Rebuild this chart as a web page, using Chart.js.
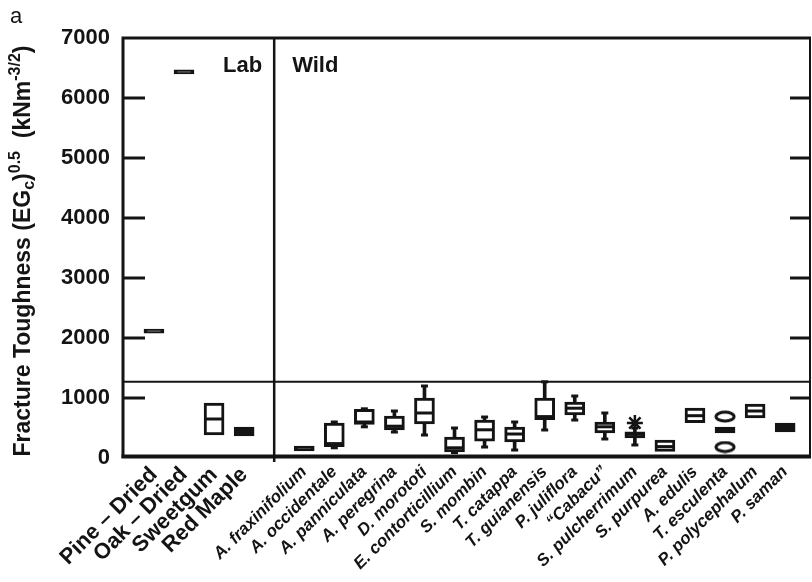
<!DOCTYPE html>
<html><head><meta charset="utf-8">
<script src="https://cdn.jsdelivr.net/npm/chart.js@4"></script>
<style>html,body{margin:0;padding:0;background:#fff;}#wrap{width:812px;height:582px;position:relative;}</style>
</head><body><div id="wrap"><canvas id="c" width="812" height="582"></canvas></div>
<script>
// ---------- data ----------
const categories = ['Pine – Dried','Oak – Dried','Sweetgum','Red Maple','',
  'A. fraxinifolium','A. occidentale','A. panniculata','A. peregrina','D. morototi',
  'E. contorticillium','S. mombin','T. catappa','T. guianensis','P. juliflora',
  '“Cabacu”','S. pulcherrimum','S. purpurea','A. edulis','T. esculenta',
  'P. polycephalum','P. saman'];
const labCategories = ['Pine – Dried','Oak – Dried','Sweetgum','Red Maple'];
const q1     = [2080, 6400, 383, 367, null, 120, 190, 560, 470, 567, 100, 280, 270, 640, 720, 420, 335, 110, 590, 420, 670, 435];
const median = [null, null, 650, 450, null, null, 240, 600, 530, 750, 170, 470, 400, 690, 830, 520, 400, 190, 705, 470, 783, 510];
const q3     = [2150, 6470, 917, 517, null, 200, 583, 810, 700, 1000, 350, 633, 517, 1000, 933, 600, 435, 300, 833, 517, 900, 583];
const whiskerLow  = [null, null, null, null, null, null, 170, 520, 433, 383, 90, 183, 133, 467, 633, 317, 217, null, null, null, null, null];
const whiskerHigh = [null, null, null, null, null, null, 600, 820, 783, 1200, 500, 683, 600, 1270, 1033, 750, 500, null, null, null, null, null];
const outlierCategory = ['S. pulcherrimum', 'T. esculenta', 'T. esculenta'];
const outlierValue    = [583, 690, 183];
const outlierKind     = ['extreme', 'outlier', 'outlier'];
const yTicks = [0, 1000, 2000, 3000, 4000, 5000, 6000, 7000];
const dividerValue = 1270;
const groupNames = ['Lab', 'Wild'];

// ---------- build ----------
const INK = '#141414';
const FONT = '"Liberation Sans", Arial, Helvetica, sans-serif';
const idx = c => categories.indexOf(c);
const boxData = [], whiskerData = [], medianData = [], capData = [];
categories.forEach((c, i) => {
  if (q1[i] != null) boxData.push({x: i, y: [q1[i], q3[i]]});
  if (median[i] != null) medianData.push({x: i, y: median[i]});
  if (whiskerLow[i] != null) {
    whiskerData.push({x: i, y: [whiskerLow[i], whiskerHigh[i]]});
    capData.push({x: i, y: whiskerLow[i]}, {x: i, y: whiskerHigh[i]});
  }
});
const extremeData = [], outlierData = [];
outlierCategory.forEach((c, k) => {
  const p = {x: idx(c), y: outlierValue[k]};
  (outlierKind[k] === 'extreme' ? extremeData : outlierData).push(p);
});
const ell = document.createElement('canvas');
ell.width = 22; ell.height = 13;
(() => { const g = ell.getContext('2d'); g.lineWidth = 3; g.strokeStyle = INK;
  g.beginPath(); g.ellipse(11, 6.5, 9, 4.5, 0, 0, Math.PI * 2); g.stroke(); })();

const sepIndex = categories.indexOf('');

const decor = {
  id: 'decor',
  beforeDatasetsDraw(chart) {
    const {ctx, chartArea: a, scales: {x, y}} = chart;
    ctx.save();
    ctx.strokeStyle = INK;
    ctx.lineWidth = 2;
    const yd = y.getPixelForValue(dividerValue);
    ctx.beginPath(); ctx.moveTo(a.left, yd); ctx.lineTo(a.right, yd); ctx.stroke();
    ctx.lineWidth = 2.5;
    const xs = x.getPixelForValue(sepIndex);
    ctx.beginPath(); ctx.moveTo(xs, a.top); ctx.lineTo(xs, a.bottom + 4); ctx.stroke();
    ctx.lineWidth = 3;
    yTicks.forEach(v => {
      if (v === 0 || v === 7000) return;
      const py = y.getPixelForValue(v);
      ctx.beginPath(); ctx.moveTo(a.left, py); ctx.lineTo(a.left + 22, py);
      ctx.moveTo(a.right - 21, py); ctx.lineTo(a.right, py); ctx.stroke();
    });
    ctx.fillStyle = INK;
    ctx.font = 'bold 22px ' + FONT;
    ctx.textBaseline = 'alphabetic';
    ctx.textAlign = 'right';
    ctx.fillText(groupNames[0], xs - 12, a.top + 34);
    ctx.textAlign = 'left';
    ctx.fillText(groupNames[1], xs + 18, a.top + 34);
    ctx.restore();
  },
  afterDraw(chart) {
    const {ctx, chartArea: a} = chart;
    ctx.save();
    ctx.strokeStyle = INK;
    ctx.lineWidth = 3;
    ctx.beginPath();
    ctx.moveTo(a.left, a.bottom); ctx.lineTo(a.left, a.top); ctx.lineTo(a.right, a.top);
    ctx.stroke();
    ctx.lineWidth = 2;
    ctx.beginPath(); ctx.moveTo(a.right - 1, a.top); ctx.lineTo(a.right - 1, a.bottom); ctx.stroke();
    ctx.lineWidth = 4;
    ctx.beginPath(); ctx.moveTo(a.left - 1.5, a.bottom - 1.5); ctx.lineTo(a.right, a.bottom - 1.5); ctx.stroke();
    ctx.fillStyle = INK;
    ctx.font = '22px ' + FONT;
    ctx.textAlign = 'left'; ctx.textBaseline = 'alphabetic';
    ctx.fillText('a', 10, 23);
    const big = 23, small = 16;
    const parts = [
      ['Fracture Toughness (EG', big, 0], ['c', small, 4], [')', big, 0],
      ['0.5', small, -10], ['  (kNm', big, 0], ['-3/2', small, -10], [')', big, 0]
    ];
    let total = 0;
    parts.forEach(p => { ctx.font = 'bold ' + p[1] + 'px ' + FONT; p.push(ctx.measureText(p[0]).width); total += p[3]; });
    ctx.translate(30, 251);
    ctx.rotate(-Math.PI / 2);
    let px = -total / 2;
    parts.forEach(p => { ctx.font = 'bold ' + p[1] + 'px ' + FONT; ctx.fillText(p[0], px, p[2]); px += p[3]; });
    ctx.restore();
  }
};

new Chart(document.getElementById('c'), {
  type: 'bar',
  data: {
    datasets: [
      {type: 'bar', data: whiskerData, backgroundColor: INK, borderWidth: 0, barThickness: 3, grouped: false, order: 5},
      {type: 'bar', data: boxData, borderColor: INK, borderWidth: 3, borderSkipped: false, barThickness: 20, grouped: false, order: 4,
       backgroundColor: c => (c.raw && (c.raw.y[1] - c.raw.y[0]) < 160) ? INK : '#ffffff'},
      {type: 'scatter', data: medianData, pointStyle: 'line', radius: 8.5, borderWidth: 3, borderColor: INK, order: 3},
      {type: 'scatter', data: capData, pointStyle: 'line', radius: 3.5, borderWidth: 3, borderColor: INK, order: 3},
      {type: 'scatter', data: extremeData, pointStyle: 'star', radius: 8, borderWidth: 2.5, borderColor: INK, order: 2},
      {type: 'scatter', data: outlierData, pointStyle: ell, radius: 8, order: 2}
    ]
  },
  options: {
    responsive: false, animation: false,
    layout: {autoPadding: false, padding: {top: 38, right: 1, left: 0, bottom: 0}},
    plugins: {legend: {display: false}, tooltip: {enabled: false}},
    scales: {
      x: {
        type: 'linear', min: -1.03, max: 21.86, offset: false,
        grid: {display: false, drawTicks: false}, border: {display: false},
        afterBuildTicks: s => { s.ticks = categories.map((c, i) => ({value: i})); },
        afterFit: s => { s.height = 124; s.paddingLeft = 0; s.paddingRight = 0; },
        ticks: {
          autoSkip: false, maxRotation: 45, minRotation: 45, padding: 4, color: INK,
          callback: v => categories[Math.round(v)],
          font: c => labCategories.includes(categories[c.index])
            ? {family: FONT, size: 22, weight: 'bold'}
            : {family: FONT, size: 17, weight: 'bold', style: 'italic'}
        }
      },
      y: {
        min: 0, max: 7000,
        grid: {display: false, drawTicks: false}, border: {display: false},
        afterBuildTicks: s => { s.ticks = yTicks.map(v => ({value: v})); },
        afterFit: s => { s.width = 123; s.paddingTop = 0; s.paddingBottom = 0; },
        ticks: {padding: 13, color: INK, font: {family: FONT, size: 22, weight: 'bold'},
                callback: v => String(v)}
      }
    }
  },
  plugins: [decor]
});
</script></body></html>
